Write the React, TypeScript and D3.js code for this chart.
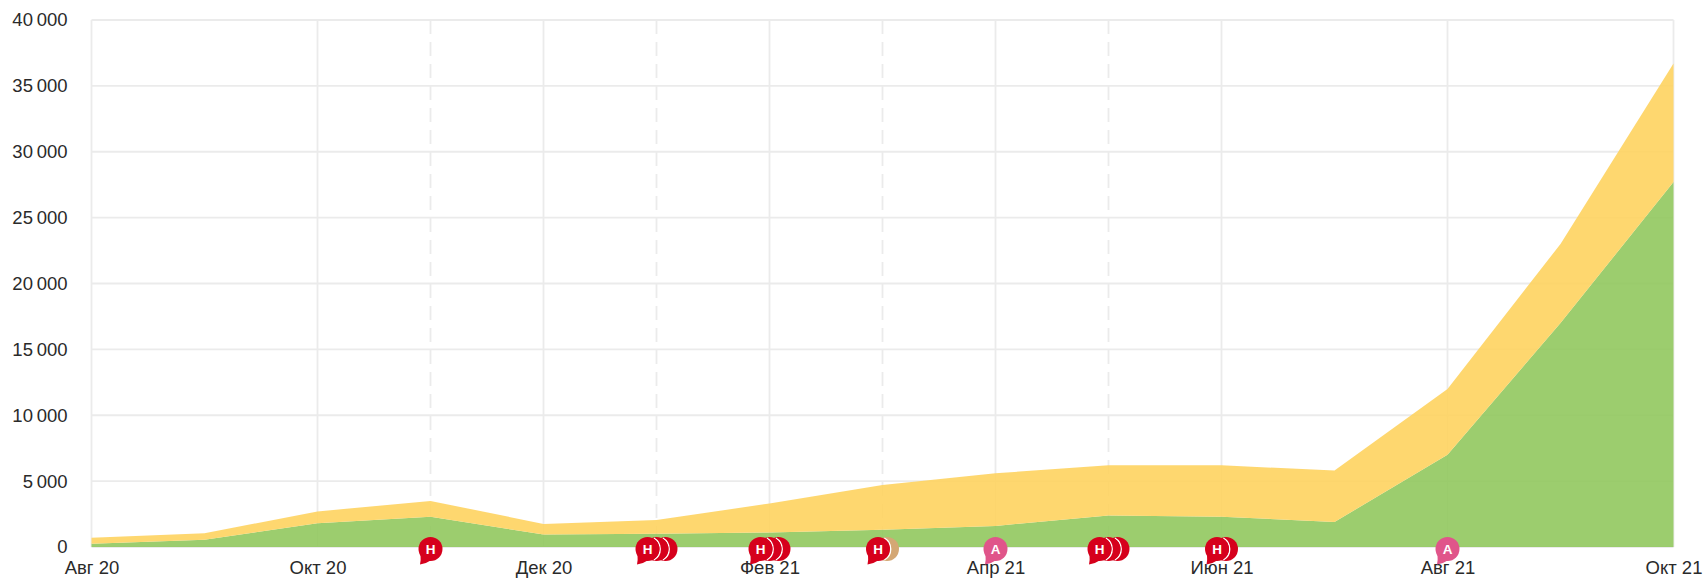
import React, { useRef, useEffect } from 'react';
import * as d3 from 'd3';

const months = ['Авг 20', 'Сен 20', 'Окт 20', 'Ноя 20', 'Дек 20', 'Янв 21', 'Фев 21', 'Мар 21', 'Апр 21', 'Май 21', 'Июн 21', 'Июл 21', 'Авг 21', 'Сен 21', 'Окт 21'];
const labelledMonths = months.filter((_, i) => i % 2 === 0);
const dashedMonths = ['Ноя 20', 'Янв 21', 'Мар 21', 'Май 21'];

// values
const greenValues = [250, 550, 1800, 2300, 950, 1000, 1100, 1300, 1600, 2400, 2300, 1900, 7000, 17000, 27700];
const yellowValues = [450, 500, 900, 1200, 800, 1050, 2200, 3400, 4000, 3800, 3900, 3900, 5000, 6000, 9000];

const yTicks = [0, 5000, 10000, 15000, 20000, 25000, 30000, 35000, 40000];

// month, letters from front to back
const eventMonths = ['Ноя 20', 'Янв 21', 'Фев 21', 'Мар 21', 'Апр 21', 'Май 21', 'Июн 21', 'Авг 21'];
const eventKinds = [['Н'], ['Н', 'Н', 'Н'], ['Н', 'Н', 'Н'], ['Н', 'Т'], ['А'], ['Н', 'Н', 'Н'], ['Н', 'Н'], ['А']];

const kindColor: Record<string, string> = { 'Н': '#d6001c', 'А': '#e0558a', 'Т': '#d4a774' };

export default function App() {
  const ref = useRef<SVGSVGElement>(null);

  useEffect(() => {
    const svg = d3.select(ref.current);
    svg.selectAll('*').remove();

    const width = 1703;
    const height = 582;
    const margin = { top: 20, right: 29.5, bottom: 35, left: 91.5 };
    const font = '"Liberation Sans", Arial, sans-serif';

    const x = d3.scalePoint<string>().domain(months).range([margin.left, width - margin.right]);
    const y = d3.scaleLinear().domain([0, 40000]).range([height - margin.bottom, margin.top]);

    // grid sits under the areas, it shows through them faintly
    const grid = svg.append('g').attr('fill', 'none').attr('stroke', '#ebebeb').attr('stroke-width', 1.8);
    grid.selectAll('line.h')
      .data(yTicks)
      .join('line')
      .attr('class', 'h')
      .attr('x1', margin.left)
      .attr('x2', width - margin.right)
      .attr('y1', d => y(d))
      .attr('y2', d => y(d));
    grid.selectAll('line.v')
      .data([...labelledMonths, ...dashedMonths])
      .join('line')
      .attr('class', 'v')
      .attr('x1', d => x(d)!)
      .attr('x2', d => x(d)!)
      .attr('y1', margin.top)
      .attr('y2', y(0))
      .attr('stroke-dasharray', d => (dashedMonths.includes(d) ? '14 8' : null));

    const rows = months.map((m, i) => ({ month: m, green: greenValues[i], yellow: yellowValues[i] }));
    const stacked = d3.stack<any>().keys(['green', 'yellow'])(rows);
    const area = d3.area<any>()
      .x(d => x(d.data.month)!)
      .y0(d => y(d[0]))
      .y1(d => y(d[1]));

    svg.append('g')
      .selectAll('path')
      .data(stacked)
      .join('path')
      .attr('fill', d => (d.key === 'green' ? '#91c85e' : '#fed35f'))
      .attr('fill-opacity', 0.9)
      .attr('d', area);

    // axes
    const fmt = d3.formatLocale({ decimal: ',', thousands: '\u2009', grouping: [3], currency: ['', ''] }).format(',d');

    const left = svg.append('g')
      .attr('transform', `translate(${margin.left},0)`)
      .call(d3.axisLeft(y).tickValues(yTicks).tickFormat(d => fmt(d as number)).tickSize(0).tickPadding(24));
    const bottom = svg.append('g')
      .attr('transform', `translate(0,${y(0)})`)
      .call(d3.axisBottom(x).tickValues(labelledMonths).tickSize(0).tickPadding(14));

    [left, bottom].forEach(a => {
      a.select('.domain').remove();
      a.selectAll('text').attr('font-family', font).attr('font-size', 18.5).attr('fill', '#2a2a2a');
    });

    // event markers, centred on their month, back ones first
    const step = 9;
    const r = 12;
    const ring = d3.arc()({ innerRadius: r, outerRadius: r + 1.4, startAngle: Math.PI / 6, endAngle: (Math.PI * 5) / 6 });
    const markers = svg.append('g');
    eventMonths.forEach((m, i) => {
      const kinds = eventKinds[i];
      const start = x(m)! - ((kinds.length - 1) * step) / 2;
      const cy = y(0) + 2;
      kinds.map((k, j) => ({ k, j })).reverse().forEach(({ k, j }) => {
        const g = markers.append('g').attr('transform', `translate(${start + j * step},${cy})`);
        // white edge only where this bubble lies on the one behind it
        if (j < kinds.length - 1) g.append('path').attr('d', ring).attr('fill', '#fff');
        g.append('circle').attr('r', r).attr('fill', kindColor[k]);
        if (j === 0) {
          g.append('path').attr('d', 'M-10,5 Q-9.5,11 -10.5,15.5 Q-4,14.5 1,11 Z').attr('fill', kindColor[k]);
          g.append('text')
            .attr('text-anchor', 'middle')
            .attr('y', 5)
            .attr('font-family', font)
            .attr('font-weight', 700)
            .attr('font-size', 13.5)
            .attr('fill', '#fff')
            .text(k);
        }
      });
    });
  }, []);

  return (
    <svg
      ref={ref}
      width={1703}
      height={582}
      style={{ position: 'absolute', left: 0, top: 0, display: 'block', background: '#fff' }}
    />
  );
}
